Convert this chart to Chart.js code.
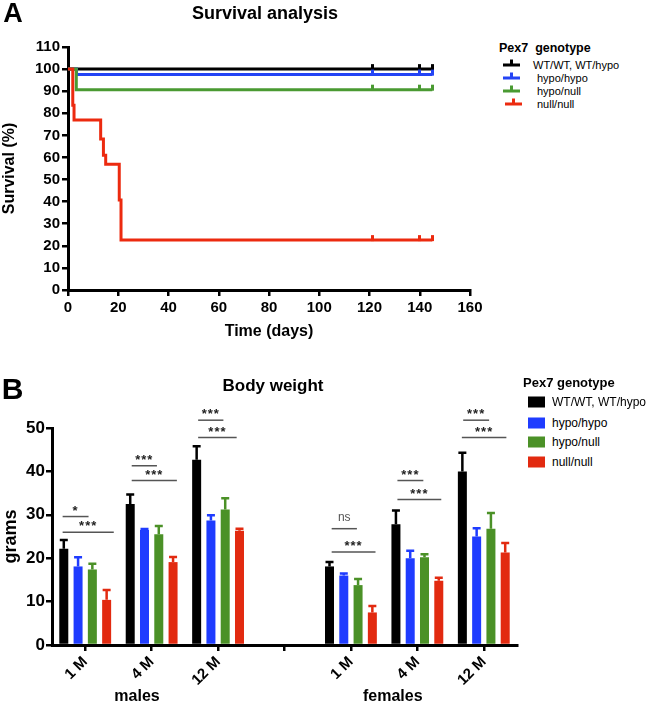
<!DOCTYPE html>
<html lang="en">
<head>
    <meta charset="UTF-8">
    <title>Pex7 survival and body weight</title>
    <script src="https://cdn.jsdelivr.net/npm/chart.js"></script>
    <style>
        body {
            margin: 0;
            background: #fff;
            font-family: 'Liberation Sans', Arial, sans-serif;
        }
        #page {
            position: relative;
            width: 647px;
            height: 705px;
            overflow: hidden;
        }
        canvas {
            position: absolute;
        }
        .txt {
            position: absolute;
            line-height: 1;
            white-space: nowrap;
            color: #000;
        }
        .ctr {
            transform: translate(-50%, -50%);
        }
        .mid {
            transform: translateY(-50%);
        }
        .b {
            font-weight: bold;
        }
        .lineIcon {
            position: absolute;
            height: 3px;
            width: 17px;
            transform: translateY(-50%);
        }
        .lineIcon::after {
            content: '';
            position: absolute;
            left: 7px;
            top: -4px;
            width: 2.5px;
            height: 5px;
            background: inherit;
        }
        .box {
            position: absolute;
            width: 17px;
            height: 11px;
            transform: translateY(-50%);
        }
    </style>
</head>
<body>
<div id="page">
    <canvas id="survChart" width="490" height="345" style="left:0;top:0;width:490px;height:345px"></canvas>
    <canvas id="weightChart" width="525" height="365" style="left:0;top:340px;width:525px;height:365px"></canvas>

    <div class="txt b ctr" style="left:13px;top:13px;font-size:27px">A</div>
    <div class="txt b ctr" style="left:265px;top:13px;font-size:18px">Survival analysis</div>

    <div class="txt b mid" style="left:499px;top:48px;font-size:12.5px">Pex7&nbsp;&nbsp;genotype</div>
    <div class="lineIcon" style="left:503px;top:65px;background:#000"></div>
    <div class="txt mid" style="left:533px;top:65px;font-size:11px">WT/WT, WT/hypo</div>
    <div class="lineIcon" style="left:503px;top:78px;background:#2444f5"></div>
    <div class="txt mid" style="left:537px;top:78px;font-size:11px">hypo/hypo</div>
    <div class="lineIcon" style="left:503px;top:90.5px;background:#4a9a32"></div>
    <div class="txt mid" style="left:537px;top:90.5px;font-size:11px">hypo/null</div>
    <div class="lineIcon" style="left:505px;top:104px;background:#ec2a0f"></div>
    <div class="txt mid" style="left:537px;top:104px;font-size:11px">null/null</div>

    <div class="txt b ctr" style="left:12.5px;top:389px;font-size:30px">B</div>
    <div class="txt b ctr" style="left:273px;top:385px;font-size:17px">Body weight</div>

    <div class="txt b mid" style="left:523px;top:382px;font-size:13px">Pex7 genotype</div>
    <div class="box" style="left:528px;top:402px;background:#000"></div>
    <div class="txt mid" style="left:552px;top:402px;font-size:12px">WT/WT, WT/hypo</div>
    <div class="box" style="left:528px;top:423px;background:#1f3cff"></div>
    <div class="txt mid" style="left:552px;top:423px;font-size:12px">hypo/hypo</div>
    <div class="box" style="left:528px;top:442px;background:#4b9127"></div>
    <div class="txt mid" style="left:552px;top:442px;font-size:12px">hypo/null</div>
    <div class="box" style="left:528px;top:462px;background:#e22a10"></div>
    <div class="txt mid" style="left:552px;top:462px;font-size:12px">null/null</div>
</div>

<script>
    // ---- A: Kaplan-Meier survival (days, % surviving after each event) ----
    const wtTimes = [0, 145];
    const wtSurvival = [100, 100];
    const hypoHypoTimes = [0, 3.4, 145];
    const hypoHypoSurvival = [100, 97.5, 97.5];
    const hypoNullTimes = [0, 3.3, 145];
    const hypoNullSurvival = [100, 90.7, 90.7];
    const nullNullTimes = [0, 1.9, 2.4, 13, 14.1, 15, 20.4, 21.1, 145];
    const nullNullSurvival = [100, 83.6, 77, 68.3, 61, 56.9, 40.7, 22.6, 22.6];
    const censorTimes = [121, 140, 145];

    // ---- B: body weight (grams), mean and error ----
    const ageLabels = ['1 M', '4 M', '12 M', '', '1 M', '4 M', '12 M'];
    const wtWeight = [22.2, 32.5, 42.7, null, 18.1, 27.8, 40.0];
    const wtError = [2.0, 2.2, 3.1, null, 1.0, 3.2, 4.3];
    const hypoHypoWeight = [18.1, 26.5, 28.7, null, 16.0, 20.0, 25.0];
    const hypoHypoError = [2.1, 0.2, 1.2, null, 0.5, 1.7, 1.9];
    const hypoNullWeight = [17.4, 25.5, 31.2, null, 13.8, 20.2, 26.8];
    const hypoNullError = [1.3, 1.9, 2.6, null, 1.4, 0.7, 3.6];
    const nullNullWeight = [10.4, 19.1, 26.3, null, 7.5, 14.8, 21.3];
    const nullNullError = [2.3, 1.2, 0.5, null, 1.5, 0.7, 2.2];

    // significance brackets: category, line start/end (fraction of category), height (g), label
    const brackets = [
        [0, -0.34, 0.05, 29.6, '*'], [0, -0.34, 0.43, 26.0, '***'],
        [1, -0.30, 0.08, 41.3, '***'], [1, -0.30, 0.38, 37.9, '***'],
        [2, -0.30, 0.08, 51.8, '***'], [2, -0.30, 0.28, 47.8, '***'],
        [4, -0.29, 0.09, 26.8, 'ns'], [4, -0.29, 0.37, 21.4, '***'],
        [5, -0.30, 0.09, 37.9, '***'], [5, -0.30, 0.36, 33.5, '***'],
        [6, -0.31, 0.08, 51.8, '***'], [6, -0.33, 0.34, 47.8, '***']
    ];
    const sexLabels = [['males', 0.78], ['females', 4.63]];

    Chart.defaults.font.family = "'Liberation Sans', Arial, sans-serif";
    Chart.defaults.color = '#000';

    const boldTick = size => ({ size: size, weight: 'bold' });

    // censor mark: a short tick standing up from the curve
    const censorMark = color => {
        const c = document.createElement('canvas');
        c.width = 3;
        c.height = 12;
        const g = c.getContext('2d');
        g.fillStyle = color;
        g.fillRect(0, 1, 3, 6);
        return c;
    };

    const kmPoints = (times, surv) => {
        const pts = times.map((t, i) => ({ x: t, y: surv[i], censor: false }));
        censorTimes.forEach(c => {
            let y = surv[0];
            times.forEach((t, i) => { if (t <= c) y = surv[i]; });
            pts.push({ x: c, y: y, censor: true });
        });
        return pts.sort((a, b) => a.x - b.x);
    };

    const kmDataset = (times, surv, color, order) => ({
        data: kmPoints(times, surv),
        borderColor: color,
        backgroundColor: color,
        borderWidth: 3,
        stepped: 'before',
        order: order,
        pointStyle: censorMark(color),
        pointRadius: ctx => (ctx.raw && ctx.raw.censor ? 4 : 0)
    });

    new Chart(document.getElementById('survChart'), {
        type: 'line',
        data: {
            datasets: [
                kmDataset(wtTimes, wtSurvival, '#000000', 3),
                kmDataset(hypoHypoTimes, hypoHypoSurvival, '#2444f5', 2),
                kmDataset(hypoNullTimes, hypoNullSurvival, '#4a9a32', 1),
                kmDataset(nullNullTimes, nullNullSurvival, '#ec2a0f', 0)
            ]
        },
        options: {
            responsive: false,
            animation: false,
            layout: { padding: { top: 47, right: 20, bottom: 0, left: 0 } },
            plugins: { legend: { display: false }, tooltip: { enabled: false } },
            scales: {
                x: {
                    type: 'linear',
                    min: 0,
                    max: 160,
                    ticks: { stepSize: 20, font: boldTick(15), padding: 3 },
                    grid: { drawOnChartArea: false, tickLength: 6, lineWidth: 2.5, color: '#000' },
                    border: { width: 3, color: '#000' },
                    title: { display: true, text: 'Time (days)', font: boldTick(16), padding: 4 },
                    afterFit: s => { s.height = 55; }
                },
                y: {
                    min: 0,
                    max: 110,
                    ticks: { stepSize: 10, font: boldTick(15), padding: 2 },
                    grid: { drawOnChartArea: false, tickLength: 6, lineWidth: 2.5, color: '#000' },
                    border: { width: 3, color: '#000' },
                    title: { display: true, text: 'Survival (%)', font: boldTick(16), padding: 0 },
                    afterFit: s => { s.width = 68; }
                }
            }
        }
    });

    const errorsFor = [wtError, hypoHypoError, hypoNullError, nullNullError];

    const errorBars = {
        id: 'errorBars',
        afterDatasetsDraw(chart) {
            const ctx = chart.ctx;
            const yScale = chart.scales.y;
            chart.data.datasets.forEach((ds, i) => {
                const meta = chart.getDatasetMeta(i);
                meta.data.forEach((bar, j) => {
                    const v = ds.data[j];
                    if (v === null) return;
                    const top = yScale.getPixelForValue(v + errorsFor[i][j]);
                    const hw = bar.width / 2 - 0.5;
                    ctx.save();
                    ctx.strokeStyle = ds.backgroundColor;
                    ctx.lineWidth = 2.5;
                    ctx.beginPath();
                    ctx.moveTo(bar.x, bar.y);
                    ctx.lineTo(bar.x, top);
                    ctx.moveTo(bar.x - hw, top);
                    ctx.lineTo(bar.x + hw, top);
                    ctx.stroke();
                    ctx.restore();
                });
            });
        }
    };

    const annotations = {
        id: 'annotations',
        afterDraw(chart) {
            const ctx = chart.ctx;
            const xs = chart.scales.x;
            const ys = chart.scales.y;
            const catW = (xs.right - xs.left) / ageLabels.length;
            ctx.save();
            brackets.forEach(([cat, from, to, h, label]) => {
                const cx = xs.getPixelForValue(cat);
                const x1 = cx + from * catW;
                const x2 = cx + to * catW;
                const y = ys.getPixelForValue(h);
                ctx.strokeStyle = '#555';
                ctx.lineWidth = 1.5;
                ctx.beginPath();
                ctx.moveTo(x1, y);
                ctx.lineTo(x2, y);
                ctx.stroke();
                ctx.fillStyle = label === 'ns' ? '#555' : '#222';
                ctx.textAlign = 'center';
                ctx.textBaseline = 'alphabetic';
                ctx.letterSpacing = label === 'ns' ? '0px' : '1px';
                ctx.font = label === 'ns' ? "12px 'Liberation Sans', Arial" : "bold 13px 'Liberation Sans', Arial";
                ctx.fillText(label, (x1 + x2) / 2, label === 'ns' ? y - 8 : y - 2);
            });
            ctx.letterSpacing = '0px';
            ctx.fillStyle = '#000';
            ctx.textAlign = 'center';
            ctx.textBaseline = 'middle';
            ctx.font = "bold 16px 'Liberation Sans', Arial";
            sexLabels.forEach(([text, pos]) => {
                ctx.fillText(text, xs.getPixelForValue(pos), chart.chartArea.bottom + 52);
            });
            ctx.restore();
        }
    };

    const barSet = (data, color) => ({
        data: data,
        backgroundColor: color,
        borderWidth: 0,
        barPercentage: 0.63,
        categoryPercentage: 0.86
    });

    new Chart(document.getElementById('weightChart'), {
        type: 'bar',
        data: {
            labels: ageLabels,
            datasets: [
                barSet(wtWeight, '#000000'),
                barSet(hypoHypoWeight, '#1f3cff'),
                barSet(hypoNullWeight, '#4b9127'),
                barSet(nullNullWeight, '#e22a10')
            ]
        },
        options: {
            responsive: false,
            animation: false,
            layout: { padding: { top: 88, right: 8, bottom: 0, left: 0 } },
            plugins: { legend: { display: false }, tooltip: { enabled: false } },
            scales: {
                x: {
                    ticks: { font: boldTick(15), maxRotation: 45, minRotation: 45, padding: 2 },
                    grid: { drawOnChartArea: false, tickLength: 6, lineWidth: 2.5, color: '#000', offset: false },
                    border: { width: 3, color: '#000' },
                    afterFit: s => { s.height = 60; }
                },
                y: {
                    min: 0,
                    max: 50,
                    ticks: { stepSize: 10, font: boldTick(17), padding: 1 },
                    grid: { drawOnChartArea: false, tickLength: 6, lineWidth: 2.5, color: '#000' },
                    border: { width: 3, color: '#000' },
                    title: { display: true, text: 'grams', font: boldTick(18), padding: 0 },
                    afterFit: s => { s.width = 52; }
                }
            }
        },
        plugins: [errorBars, annotations]
    });
</script>
</body>
</html>
